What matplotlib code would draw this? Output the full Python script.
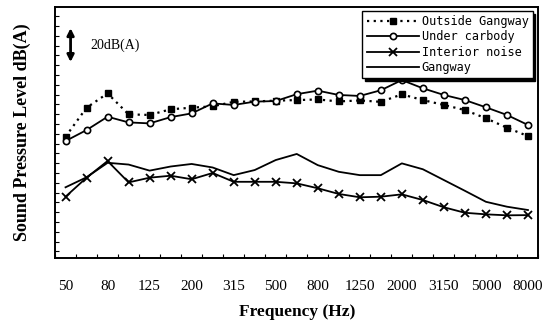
import matplotlib.pyplot as plt
import numpy as np

freqs = ['50', '63', '80', '100', '125', '160', '200', '250', '315', '400', '500', '630',
         '800', '1000', '1250', '1600', '2000', '2500', '3150', '4000', '5000', '6300', '8000']

outside_gangway = [83.5, 98.3, 105.6, 94.9, 94.6, 97.5, 98.3, 99.0, 101.3, 101.5, 101.9, 102.2,
                   102.5, 101.5, 102.0, 101.3, 105.1, 102.2, 99.7, 97.1, 92.9, 88.1, 83.8]
under_carbody = [81.3, 86.9, 93.7, 90.8, 90.3, 93.5, 95.4, 100.5, 99.7, 101.4, 101.7, 105.2,
                 107.0, 104.8, 104.3, 107.2, 112.4, 108.2, 104.8, 102.2, 98.5, 94.6, 89.5]
interior_noise = [52.9, 62.6, 71.1, 60.2, 62.6, 63.6, 61.8, 65.0, 60.5, 60.5, 60.5, 59.7,
                  57.2, 54.3, 52.6, 52.9, 54.1, 51.2, 47.5, 44.7, 43.9, 43.4, 43.5]
gangway = [57.7, 62.8, 70.2, 69.3, 66.2, 68.3, 69.6, 67.8, 63.9, 66.5, 71.6, 74.7,
           69.0, 65.6, 63.9, 63.9, 69.9, 66.9, 61.4, 55.9, 50.3, 47.8, 46.1]


def sound_levels():
    x = np.arange(len(freqs))
    fig = plt.figure(figsize=(5.58, 3.25), dpi=100)
    ax = fig.add_axes([0.0986, 0.206, 0.8664, 0.772])

    ax.plot(x, outside_gangway, color='black', linestyle=(0, (1, 2)), linewidth=1.6,
            marker='s', markersize=5, label='Outside Gangway')
    ax.plot(x, under_carbody, color='black', linestyle='-', linewidth=1.3,
            marker='o', markersize=4.5, markerfacecolor='white', markeredgewidth=1.2,
            label='Under carbody')
    ax.plot(x, interior_noise, color='black', linestyle='-', linewidth=1.3,
            marker='x', markersize=6, markeredgewidth=1.3, label='Interior noise')
    ax.plot(x, gangway, color='black', linestyle='-', linewidth=1.3, label='Gangway')

    ax.set_xlim(-0.5, len(freqs) - 0.5)
    ax.set_ylim(21.6, 149.6)

    # category axis: labels every other band, ticks on the boundaries
    ax.set_xticks(x[::2])
    ax.set_xticklabels(freqs[::2], fontsize=11, family='Liberation Serif')
    ax.set_xticks(np.arange(-0.5, len(freqs), 1), minor=True)
    ax.tick_params(axis='x', which='major', length=0, pad=16)
    ax.tick_params(axis='x', which='minor', direction='in', length=3, width=0.8)
    ax.set_yticks(np.arange(25, 150, 5))
    ax.set_yticklabels([])
    ax.tick_params(axis='y', which='major', direction='in', length=3, width=0.8)

    for sp in ax.spines.values():
        sp.set_linewidth(1.4)

    ax.set_xlabel('Frequency (Hz)', fontsize=12.5, fontweight='bold',
                  family='Liberation Serif', labelpad=8)
    ax.set_ylabel('Sound Pressure Level dB(A)', fontsize=13, fontweight='bold',
                  family='Liberation Serif', labelpad=14)

    # 20 dB(A) scale marker
    ax.annotate('', xy=(0.24, 138.9), xytext=(0.24, 121.6),
                arrowprops=dict(arrowstyle='<|-|>', color='black', lw=2,
                                mutation_scale=10, shrinkA=0, shrinkB=0))
    ax.text(1.2, 130.3, '20dB(A)', fontsize=10, family='Liberation Serif',
            va='center', ha='left')

    leg = ax.legend(loc='upper right', bbox_to_anchor=(0.988, 0.985), borderaxespad=0,
                    fancybox=False, edgecolor='black', framealpha=1, numpoints=1,
                    handlelength=4.4, handletextpad=0.2, labelspacing=0.2,
                    borderpad=0.35, shadow={'color': 'black', 'alpha': 1},
                    prop={'family': 'DejaVu Sans Mono', 'size': 8.6})
    leg.get_frame().set_linewidth(1)

    plt.savefig('out.png', dpi=100)


if __name__ == '__main__':
    sound_levels()
